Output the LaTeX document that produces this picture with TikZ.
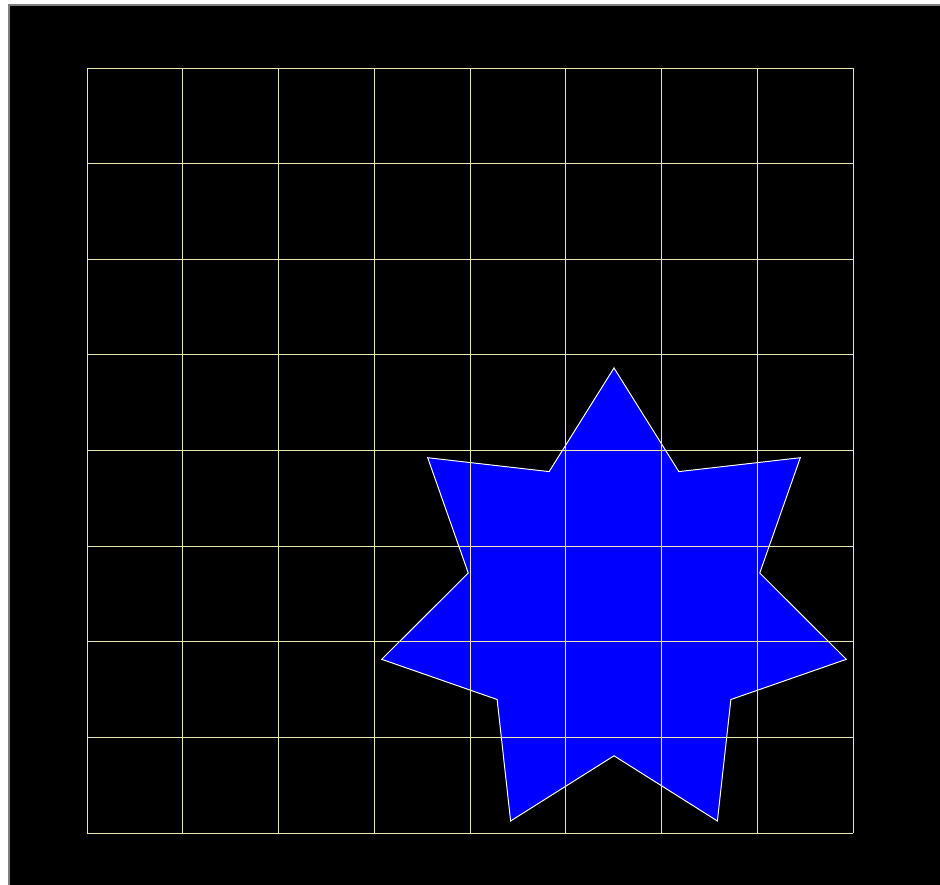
\documentclass[tikz,border=0pt]{standalone}
\usetikzlibrary{calc}
\definecolor{gridcol}{RGB}{232,230,180}
\definecolor{starblue}{RGB}{0,0,255}
\tikzset{
  gridline/.style={draw=gridcol, line width=0.55},
  starshape/.style={fill=starblue, draw=white, line width=0.55, line join=miter},
}
\begin{document}
\begin{tikzpicture}[x=0.02cm,y=0.02cm]
\useasboundingbox (0,0) rectangle (940,885);
\fill[white] (0,0) rectangle (940,885);
\fill[black] (9,0) rectangle (940,880);
\draw[gray, line width=0.8] (9,0) -- (9,880) -- (940,880);
% star
\coordinate (c) at (614,278.7);
\path[starshape]
  ($(c)+(90:238.3)$)
  \foreach \i in {0,...,6} {
    -- ($(c)+({90+25.714+51.4286*\i}:149.5)$)
    -- ($(c)+({90+51.4286*(\i+1)}:238.3)$)
  } -- cycle;
% grid
\foreach \k in {0,...,8} {
  \draw[gridline] ({87+95.75*\k},52) -- ({87+95.75*\k},817);
  \draw[gridline] (87,{52+95.625*\k}) -- (853,{52+95.625*\k});
}
\end{tikzpicture}
\end{document}
